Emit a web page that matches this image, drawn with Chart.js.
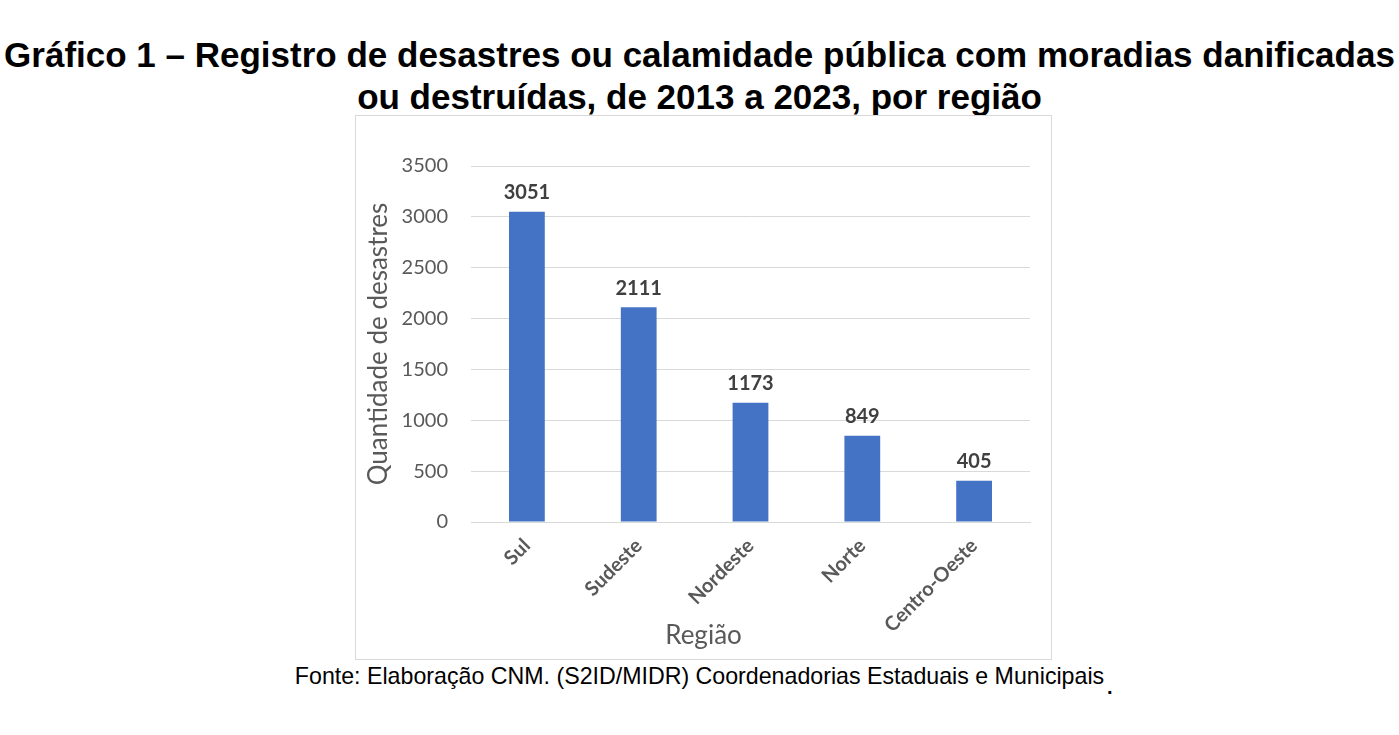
<!DOCTYPE html>
<html lang="pt">
<head>
<meta charset="utf-8">
<script src="https://cdn.jsdelivr.net/npm/chart.js"></script>
<style>
  body { margin: 0; background: #fff; width: 1399px; height: 735px; position: relative; font-family: "Liberation Sans", Arial, sans-serif; }
  #title { position: absolute; left: 0; top: 34px; width: 1399px; text-align: center; font-weight: bold; font-size: 35px; line-height: 42px; color: #000; white-space: nowrap; }
  #box { position: absolute; left: 355px; top: 115px; width: 695px; height: 543px; border: 1px solid #d9d9d9; }
  #fonte { position: absolute; left: 0; top: 663px; width: 1399px; text-align: center; font-size: 23.2px; line-height: 26px; color: #000; }
  #ponto { position: absolute; left: 1107px; top: 676px; font-size: 20px; font-weight: bold; }
</style>
</head>
<body>
<div id="title">Gráfico 1 – Registro de desastres ou calamidade pública com moradias danificadas<br>ou destruídas, de 2013 a 2023, por região</div>
<div id="box"><canvas id="myChart" width="695" height="543"></canvas></div>
<div id="fonte">Fonte: Elaboração CNM. (S2ID/MIDR) Coordenadorias Estaduais e Municipais</div>
<div id="ponto">.</div>
<script>
const regioes = ['Sul', 'Sudeste', 'Nordeste', 'Norte', 'Centro-Oeste'];
const desastres = [3051, 2111, 1173, 849, 405];
const yTicks = [0, 500, 1000, 1500, 2000, 2500, 3000, 3500];

const grey = '#595959';
const font = '"Lato", "Open Sans", sans-serif';

// rótulos de valor em cima das barras + título do eixo x centrado no quadro
const valueLabels = {
  id: 'valueLabels',
  afterDraw(chart) {
    const ctx = chart.ctx;
    const meta = chart.getDatasetMeta(0);
    ctx.save();
    ctx.font = 'bold 20px ' + font;
    ctx.fillStyle = '#404040';
    ctx.textAlign = 'center';
    ctx.textBaseline = 'bottom';
    meta.data.forEach((bar, i) => {
      ctx.fillText(desastres[i], bar.x, bar.y - 9);
    });
    ctx.font = '26px ' + font;
    ctx.fillStyle = grey;
    ctx.textBaseline = 'middle';
    ctx.fillText('Região', chart.width / 2, chart.height - 23);
    ctx.restore();
  }
};

const config = {
  type: 'bar',
  data: {
    labels: regioes,
    datasets: [{
      data: desastres,
      backgroundColor: '#4472c4',
      barPercentage: 0.64,
      categoryPercentage: 0.5
    }]
  },
  options: {
    responsive: false,
    animation: false,
    layout: { padding: { left: 0, right: 21, top: 50, bottom: 0 } },
    plugins: {
      legend: { display: false },
      tooltip: { enabled: false }
    },
    scales: {
      x: {
        grid: { display: false, drawTicks: false },
        border: { color: '#d9d9d9', width: 1 },
        ticks: {
          color: grey,
          font: { family: font, size: 20, weight: 'bold' },
          maxRotation: 45, minRotation: 45,
          padding: 12
        },
        afterFit(s) { s.height = 137; }
      },
      y: {
        min: 0, max: 3500,
        afterBuildTicks(s) { s.ticks = yTicks.map(v => ({ value: v })); },
        grid: { color: '#d9d9d9', drawTicks: false },
        border: { display: false },
        ticks: {
          color: grey,
          font: { family: font, size: 20 },
          padding: 23,
          callback: v => String(v)
        },
        title: {
          display: true,
          text: 'Quantidade de desastres',
          color: grey,
          font: { family: font, size: 26, weight: 'normal' },
          padding: { top: 7, bottom: 0 }
        },
        afterFit(s) { s.width = 115; }
      }
    }
  },
  plugins: [valueLabels]
};

const myChart = new Chart(document.getElementById('myChart'), config);
</script>
</body>
</html>
